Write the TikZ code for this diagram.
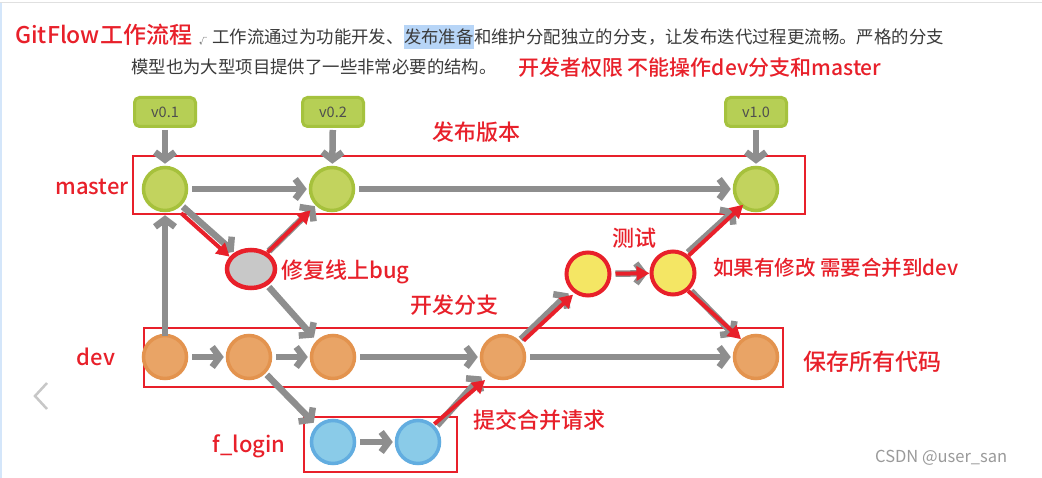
\documentclass[tikz,border=0pt]{standalone}
\usepackage{fontspec}
\setmainfont{Noto Sans CJK SC}[BoldFont={Noto Sans CJK SC Medium}]
\usetikzlibrary{arrows.meta,shapes.geometric}
\definecolor{redc}{HTML}{E8202A}
\definecolor{grayc}{HTML}{8E8E8E}
\definecolor{txtc}{HTML}{3A3A3A}
\definecolor{hlc}{HTML}{B7D5F7}
\definecolor{mfill}{HTML}{C2D35E}
\definecolor{mdraw}{HTML}{A6C13C}
\definecolor{dfill}{HTML}{E9A466}
\definecolor{ddraw}{HTML}{E3934E}
\definecolor{ffill}{HTML}{8ACBE8}
\definecolor{fdraw}{HTML}{62ADE0}
\definecolor{yfill}{HTML}{F4E664}
\definecolor{hfill}{HTML}{C8C8C8}
\definecolor{tagin}{HTML}{B6CF55}
\definecolor{tagout}{HTML}{A5C23E}
\definecolor{wmark}{HTML}{9A9A9A}
\begin{document}
\begin{tikzpicture}[x=1pt,y=-1pt,
  commit/.style={circle,minimum size=43pt,inner sep=0pt,line width=3.5pt},
  mnode/.style={commit,fill=mfill,draw=mdraw},
  dnode/.style={commit,fill=dfill,draw=ddraw},
  fnode/.style={commit,fill=ffill,draw=fdraw},
  ynode/.style={commit,fill=yfill,draw=redc,line width=4pt},
  hnode/.style={ellipse,minimum width=48pt,minimum height=38pt,inner sep=0pt,fill=hfill,draw=redc,line width=4.5pt},
  tag/.style={rounded corners=5pt,fill=tagin,draw=tagout,line width=3pt,minimum width=61pt,minimum height=29pt,inner sep=0pt,text=txtc!90,font=\fontsize{14.5}{16}\selectfont},
  garr/.style={draw=grayc,line width=6.5pt,-{Straight Barb[length=7.5pt,width=20pt]}},
  rarr/.style={draw=redc,line width=4pt,-{Triangle[length=13pt,width=14pt]}},
  frame/.style={draw=redc,line width=2pt},
  lbl/.style={text=redc,inner sep=0pt,font=\fontsize{22}{24}\selectfont\bfseries},
  body/.style={text=txtc,inner sep=0pt,font=\fontsize{17.4}{20}\selectfont}]
\useasboundingbox (0,0) rectangle (1042,478);
\fill[white] (0,0) rectangle (1042,478);
\draw[draw=black!12,line width=1pt] (0,3) -- (1042,3);
\draw[draw=hlc!60,line width=1.5pt] (1,3) -- (1,478);

% header texts
\node[lbl,anchor=west,font=\fontsize{23}{26}\selectfont\bfseries] (title) at (15,35) {GitFlow工作流程};
\node[text=txtc,inner sep=0pt,font=\fontsize{8}{9}\selectfont] (chk) at (203,41) {√};
\node[body,anchor=west] (p1) at (212,37) {工作流通过为功能开发、};
\node[body,anchor=west,fill=hlc,inner ysep=4pt] (p2) at (p1.east) {发布准备};
\node[body,anchor=west] (p3) at (p2.east) {和维护分配独立的分支，让发布迭代过程更流畅。严格的分支};
\node[body,anchor=west] (p4) at (131,67) {模型也为大型项目提供了一些非常必要的结构。};
\node[lbl,anchor=west,font=\fontsize{21}{24}\selectfont\bfseries] (perm) at (518,68) {开发者权限 不能操作dev分支和master};

% frames
\draw[frame] (133,156) rectangle (805,214);
\draw[frame] (144,328) rectangle (783,387);
\draw[frame] (304,417) rectangle (457,472);

% tags
\node[tag] (t1) at (165,112) {v0.1};
\node[tag] (t2) at (333,112) {v0.2};
\node[tag] (t3) at (756,112) {v1.0};

% commits
\node[mnode] (m1) at (165,189) {};
\node[mnode] (m2) at (332,189) {};
\node[mnode] (m3) at (756,189) {};
\node[hnode] (hf) at (251,269) {};
\node[dnode] (d1) at (165,357) {};
\node[dnode] (d2) at (249,357) {};
\node[dnode] (d3) at (333,357) {};
\node[dnode] (d4) at (503,357) {};
\node[dnode] (d5) at (756,357) {};
\node[fnode] (f1) at (333,442) {};
\node[fnode] (f2) at (418,442) {};
\node[ynode] (y1) at (588,274) {};
\node[ynode] (y2) at (673,273) {};

% gray connectors
\draw[garr,shorten <=2pt,shorten >=2pt] (t1) -- (m1);
\draw[garr,shorten <=2pt,shorten >=2pt] (t2) -- (m2);
\draw[garr,shorten <=2pt,shorten >=2pt] (t3) -- (m3);
\draw[garr,shorten <=4pt,shorten >=2pt] (m1) -- (m2);
\draw[garr,shorten <=4pt,shorten >=2pt] (m2) -- (m3);
\draw[garr,shorten <=-2pt,shorten >=3pt] (d1) -- (m1);
\draw[garr,shorten <=2pt,shorten >=1pt] (m1.-45) -- (hf.135);
\draw[garr,shorten <=2pt,shorten >=1pt] (hf.45) -- (m2.-135);
\draw[garr,shorten <=2pt,shorten >=4pt] (hf.-45) -- (d3.135);
\draw[garr,shorten <=4pt,shorten >=2pt] (d1) -- (d2);
\draw[garr,shorten <=4pt,shorten >=2pt] (d2) -- (d3);
\draw[garr,shorten <=4pt,shorten >=2pt] (d3) -- (d4);
\draw[garr,shorten <=4pt,shorten >=2pt] (d4) -- (d5);
\draw[garr,shorten <=2pt,shorten >=4pt] (d2.-45) -- (f1.135);
\draw[garr,shorten <=4pt,shorten >=2pt] (f1) -- (f2);
\draw[garr,shorten <=2pt,shorten >=6pt] (f2.40) -- (d4.-140);
\draw[garr,shorten <=2pt,shorten >=4pt] (d4.45) -- (y1.-135);
\draw[garr,shorten <=4pt,shorten >=2pt] (y1) -- (y2);
\draw[garr,shorten <=2pt,shorten >=6pt] (y2.55) -- (m3.-135);
\draw[garr,shorten <=2pt,shorten >=6pt] (y2.-45) -- (d5.135);

% red connectors
\draw[rarr,shorten <=6pt] (m1.-60) -- (hf.150);
\draw[rarr,shorten >=7pt] (hf.45) -- (m2.-135);
\draw[rarr,shorten <=1pt,shorten >=6pt] (f2.48) -- (d4.-125);
\draw[rarr,shorten <=3pt,shorten >=2pt] (d4.38) -- (y1.-125);
\draw[rarr,shorten <=4pt,shorten >=0pt] (y1) -- (y2);
\draw[rarr,shorten <=0pt,shorten >=-3pt] (y2.48) -- (m3.-130);
\draw[rarr,shorten <=0pt,shorten >=0pt] (y2.-50) -- (d5.130);

% labels
\node[lbl,anchor=west] (lrel) at (432,132) {发布版本};
\node[lbl] (lmaster) at (92,187) {master};
\node[lbl,anchor=west] (lfix) at (281,272) {修复线上bug};
\node[lbl,anchor=west] (ldevb) at (410,305) {开发分支};
\node[lbl,anchor=west] (ltest) at (612,238) {测试};
\node[lbl,anchor=west,font=\fontsize{20.5}{24}\selectfont\bfseries] (lmod) at (713,268) {如果有修改 需要合并到dev};
\node[lbl] (ldev) at (96,357) {dev};
\node[lbl,anchor=west,font=\fontsize{23}{26}\selectfont\bfseries] (lsave) at (803,362) {保存所有代码};
\node[lbl] (lflogin) at (249,446) {f\_login};
\node[lbl,anchor=west] (lpr) at (473,420) {提交合并请求};
\node[text=wmark,inner sep=0pt,anchor=west,font=\fontsize{16.5}{18}\selectfont] (wm) at (875,458) {CSDN @user\_san};

% left chevron
\draw[draw=black!22,line width=2.5pt] (47,383) -- (35,396) -- (47,409);
\end{tikzpicture}
\end{document}
